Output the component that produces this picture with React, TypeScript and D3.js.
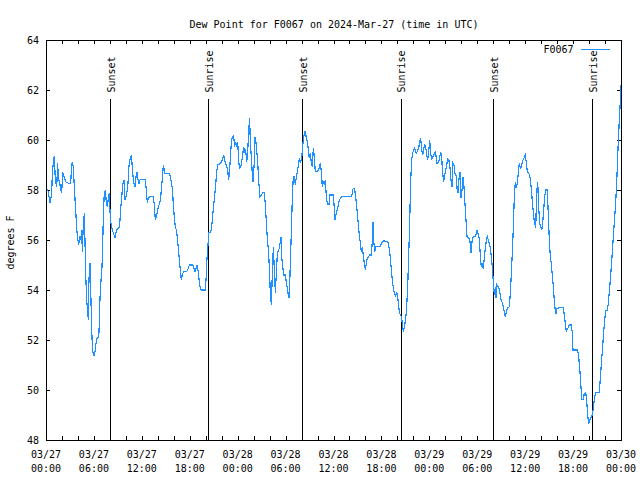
import React from 'react';
import * as d3 from 'd3';

const titleText = 'Dew Point for F0067 on 2024-Mar-27 (time in UTC)';
const seriesName = 'F0067';
const yLabel = 'degrees F';
const yTicks = [48, 50, 52, 54, 56, 58, 60, 62, 64];
const eventHours = [8.05, 20.32, 32.09, 44.4, 56.0, 68.4];
const eventLabels = ['Sunset', 'Sunrise', 'Sunset', 'Sunrise', 'Sunset', 'Sunrise'];

const hoursUTC = [
  0.08, 0.29, 0.5, 0.71, 0.79, 0.92, 1.04, 1.17, 1.34, 1.46, 1.54, 1.67, 1.84, 1.96, 2.09, 2.25, 2.46, 2.8, 3.09, 3.21,
  3.3, 3.42, 3.55, 3.72, 3.84, 3.97, 4.09, 4.22, 4.34, 4.47, 4.55, 4.67, 4.8, 4.88, 4.97, 5.09, 5.22, 5.3, 5.38, 5.51,
  5.59, 5.72, 5.84, 6.01, 6.14, 6.26, 6.43, 6.6, 6.68, 6.76, 6.89, 7.01, 7.1, 7.18, 7.3, 7.43, 7.55, 7.68, 7.81, 7.93,
  8.01, 8.1, 8.22, 8.43, 8.64, 8.85, 9.18, 9.27, 9.39, 9.52, 9.64, 9.77, 9.89, 10.02, 10.14, 10.27, 10.35, 10.44, 10.56, 10.68,
  10.77, 10.85, 11.02, 11.14, 11.27, 11.39, 11.52, 11.65, 11.77, 11.94, 12.44, 12.56, 12.69, 12.81, 12.94, 13.44, 13.56, 13.69, 13.82, 13.94,
  14.07, 14.19, 14.32, 14.44, 14.61, 14.69, 14.78, 14.9, 15.44, 15.61, 15.82, 15.94, 16.07, 16.19, 16.32, 16.44, 16.57, 16.7, 16.82, 16.95,
  17.07, 17.28, 17.61, 17.82, 17.95, 18.37, 18.53, 18.66, 18.78, 18.91, 19.03, 19.16, 19.28, 19.41, 19.91, 20.04, 20.16, 20.29, 20.37, 20.62,
  20.75, 20.87, 21.0, 21.12, 21.25, 21.37, 21.5, 21.87, 22.0, 22.12, 22.25, 22.37, 22.5, 22.62, 22.75, 22.87, 23.0, 23.12, 23.25, 23.37,
  23.5, 23.62, 23.75, 23.87, 24.0, 24.13, 24.25, 24.38, 24.5, 24.63, 24.75, 24.88, 25.0, 25.13, 25.25, 25.38, 25.5, 25.59, 25.71, 25.84,
  25.92, 26.05, 26.17, 26.3, 26.42, 26.55, 26.67, 26.8, 27.01, 27.13, 27.3, 27.42, 27.59, 27.71, 27.84, 27.97, 28.09, 28.22, 28.34, 28.47,
  28.59, 28.72, 28.84, 28.97, 29.22, 29.34, 29.43, 29.51, 29.64, 29.76, 29.97, 30.09, 30.22, 30.34, 30.47, 30.59, 30.72, 30.85, 30.97, 31.1,
  31.22, 31.35, 31.47, 31.6, 31.72, 31.89, 32.01, 32.1, 32.22, 32.35, 32.47, 32.6, 32.72, 32.85, 32.97, 33.1, 33.22, 33.35, 33.47, 33.6,
  33.72, 34.1, 34.23, 34.35, 34.48, 34.6, 34.73, 34.85, 34.98, 35.1, 35.23, 35.48, 35.56, 35.98, 36.1, 36.19, 36.31, 36.44, 36.56, 36.69,
  36.81, 36.98, 38.28, 38.4, 38.57, 38.69, 38.82, 38.99, 39.11, 39.24, 39.36, 39.49, 39.61, 39.74, 39.86, 39.99, 40.11, 40.24, 40.53, 40.7,
  40.82, 40.95, 41.03, 41.16, 41.28, 41.82, 42.03, 42.24, 42.78, 42.91, 43.03, 43.16, 43.28, 43.41, 43.53, 43.78, 43.91, 44.04, 44.16, 44.29,
  44.5, 44.66, 44.74, 44.87, 45.04, 45.16, 45.29, 45.41, 45.54, 45.66, 45.79, 45.91, 46.04, 46.16, 46.29, 46.41, 46.54, 46.66, 46.79, 46.92,
  47.04, 47.17, 47.29, 47.42, 47.54, 47.67, 47.79, 47.92, 48.04, 48.17, 48.29, 48.42, 48.67, 48.79, 48.92, 49.17, 49.3, 49.42, 49.55, 49.67,
  49.8, 49.92, 50.05, 50.17, 50.3, 50.46, 50.59, 50.71, 50.84, 50.96, 51.09, 51.21, 51.34, 51.47, 51.59, 51.72, 51.84, 51.97, 52.09, 52.22,
  52.34, 52.47, 52.59, 52.72, 52.93, 53.09, 53.22, 53.34, 53.47, 53.72, 53.84, 53.97, 54.09, 54.26, 54.39, 54.51, 54.64, 54.76, 54.89, 55.01,
  55.14, 55.26, 55.39, 55.51, 55.64, 55.76, 55.89, 55.97, 56.06, 56.14, 56.27, 56.35, 56.47, 56.73, 56.85, 56.98, 57.14, 57.27, 57.39, 57.52,
  57.64, 57.77, 58.02, 58.14, 58.27, 58.39, 58.52, 58.64, 58.77, 58.89, 59.02, 59.15, 59.27, 59.4, 59.52, 59.65, 59.77, 59.9, 60.02, 60.15,
  60.27, 60.56, 60.69, 60.81, 60.94, 61.07, 61.19, 61.32, 61.44, 61.57, 61.69, 61.82, 61.94, 62.07, 62.19, 62.32, 62.44, 62.57, 62.74, 62.86,
  62.99, 63.11, 63.24, 63.36, 63.49, 63.61, 63.74, 63.86, 63.99, 64.78, 64.91, 65.03, 65.16, 65.28, 65.41, 65.53, 65.78, 65.91, 65.99, 66.57,
  66.7, 66.83, 66.95, 67.08, 67.28, 67.41, 67.58, 67.7, 67.83, 67.95, 68.08, 68.2, 68.33, 68.45, 68.58, 68.7, 68.83, 69.25, 69.37, 69.5,
  69.62, 69.75, 69.87, 70.0, 70.12, 70.29, 70.41, 70.54, 70.66, 70.79, 70.92, 71.04, 71.17, 71.29, 71.42, 71.54, 71.67, 71.79, 71.92, 72.0,
];

const dewPointF = [
  58.07, 57.93, 57.47, 57.87, 58.6, 59.13, 59.36, 58.4, 58.13, 59.07, 58.53, 58.33, 58.07, 57.87, 58.73, 58.53, 58.33, 58.27, 58.27, 58.93,
  59.13, 58.93, 58.07, 57.2, 56.47, 56.07, 55.8, 56.16, 56.0, 56.4, 55.53, 56.6, 57.07, 56.0, 54.67, 53.6, 53.13, 52.8, 54.4, 55.07,
  54.13, 52.4, 51.53, 51.36, 51.53, 51.87, 52.1, 52.1, 52.67, 53.67, 54.4, 54.93, 55.8, 57.0, 57.87, 58.0, 57.53, 57.33, 57.67, 57.87,
  57.2, 56.73, 56.53, 56.27, 56.1, 56.4, 56.5, 56.83, 57.4, 57.87, 58.27, 58.4, 57.6, 57.73, 57.93, 58.27, 58.8, 59.13, 59.27, 59.4,
  59.07, 58.67, 58.27, 58.13, 58.53, 58.73, 58.4, 58.27, 58.4, 58.43, 58.43, 58.0, 57.47, 57.67, 57.73, 57.73, 57.4, 56.8, 56.93, 57.13,
  57.33, 57.44, 57.57, 58.0, 58.6, 59.0, 58.87, 58.67, 58.67, 58.47, 58.07, 57.47, 56.87, 56.53, 56.4, 56.13, 55.67, 55.2, 54.8, 54.4,
  54.64, 54.73, 54.73, 54.87, 55.0, 55.0, 54.87, 54.73, 54.87, 55.0, 54.8, 54.43, 54.13, 54.0, 54.0, 54.43, 55.27, 55.8, 56.29, 56.29,
  56.53, 57.0, 57.4, 57.8, 58.2, 58.73, 59.0, 59.07, 59.13, 59.27, 59.4, 59.2, 59.07, 58.93, 58.8, 58.4, 58.8, 59.53, 60.0, 60.13,
  60.16, 59.73, 59.93, 59.73, 59.93, 59.13, 58.87, 58.93, 59.13, 59.4, 59.73, 59.53, 59.6, 59.13, 59.47, 60.4, 60.87, 59.87, 59.33, 58.6,
  58.33, 58.93, 60.13, 59.87, 59.47, 58.87, 58.2, 57.73, 57.8, 57.91, 57.91, 57.6, 56.73, 56.07, 55.6, 54.93, 53.87, 53.4, 54.67, 55.73,
  54.8, 53.89, 54.67, 55.47, 55.67, 55.93, 56.13, 55.33, 54.93, 54.6, 54.6, 54.33, 54.07, 53.8, 53.67, 55.07, 56.27, 57.8, 58.53, 58.53,
  58.2, 58.53, 58.73, 59.0, 59.23, 59.13, 59.2, 59.6, 60.0, 60.27, 60.37, 60.07, 59.93, 59.6, 59.27, 59.47, 59.07, 58.93, 59.67, 59.33,
  58.73, 58.77, 58.93, 59.07, 58.73, 58.13, 58.33, 58.27, 58.4, 57.73, 57.44, 57.44, 57.8, 57.8, 57.27, 56.8, 57.0, 57.2, 57.33, 57.53,
  57.63, 57.73, 57.73, 58.03, 58.07, 57.93, 57.6, 57.07, 56.6, 56.2, 55.87, 55.53, 55.73, 55.33, 55.07, 54.8, 55.07, 55.27, 55.4, 55.4,
  55.73, 56.73, 56.0, 55.53, 55.73, 55.73, 55.87, 55.97, 55.93, 55.8, 55.53, 55.13, 54.67, 54.27, 54.0, 53.73, 53.93, 53.73, 53.33, 53.07,
  52.93, 52.6, 52.33, 52.53, 52.83, 53.33, 54.13, 55.33, 56.67, 58.33, 59.2, 59.47, 59.6, 59.67, 59.53, 59.47, 59.6, 59.67, 59.93, 60.07,
  59.6, 59.4, 59.67, 59.8, 59.73, 59.4, 59.2, 59.53, 60.0, 59.47, 59.2, 59.33, 59.47, 59.53, 59.07, 59.09, 59.33, 59.53, 59.27, 58.67,
  58.33, 58.6, 58.8, 59.0, 59.23, 59.17, 58.87, 58.4, 58.13, 59.07, 59.0, 58.67, 58.6, 58.07, 57.87, 58.47, 58.73, 57.67, 58.0, 58.53,
  58.13, 57.4, 56.8, 56.13, 56.11, 55.93, 55.47, 55.93, 56.11, 56.13, 56.2, 56.37, 56.27, 56.07, 55.33, 54.93, 55.07, 54.83, 55.33, 55.67,
  56.0, 56.13, 56.0, 55.87, 55.67, 55.33, 54.93, 54.53, 54.13, 53.8, 54.13, 53.67, 54.2, 54.07, 53.87, 53.6, 53.49, 53.33, 53.13, 52.93,
  53.13, 53.27, 53.33, 53.87, 54.67, 55.47, 56.53, 57.73, 58.33, 58.07, 58.27, 58.73, 59.07, 58.87, 58.93, 59.13, 59.23, 59.31, 59.4, 59.07,
  58.73, 58.6, 58.33, 57.87, 57.4, 56.93, 56.67, 56.47, 57.87, 58.33, 57.33, 56.67, 56.53, 56.4, 56.67, 57.2, 57.73, 58.0, 58.0, 57.33,
  56.27, 55.53, 55.13, 54.73, 54.27, 53.73, 53.27, 53.04, 53.27, 53.31, 52.93, 52.67, 52.33, 52.43, 52.51, 52.6, 52.6, 52.27, 51.6, 51.6,
  51.33, 50.87, 50.33, 49.63, 49.63, 49.87, 49.89, 49.6, 49.0, 48.64, 48.8, 48.87, 48.93, 49.07, 49.4, 49.73, 49.89, 49.89, 50.27, 50.87,
  51.4, 51.93, 52.47, 52.93, 53.17, 53.17, 53.47, 53.93, 54.4, 54.93, 55.53, 56.13, 56.73, 57.27, 58.0, 58.93, 60.0, 60.8, 61.6, 62.2,
];

const FONT = "'DejaVu Sans Mono', 'Liberation Mono', monospace";
const T0 = Date.UTC(2024, 2, 27);
const HOUR = 3600 * 1000;

export default function App() {
  const left = 46, right = 621, top = 40, bottom = 440;
  const x = d3.scaleUtc().domain([new Date(T0), new Date(T0 + 72 * HOUR)]).range([left, right]);
  const y = d3.scaleLinear().domain([48, 64]).range([bottom, top]);
  const data = hoursUTC.map((h, i) => ({ t: new Date(T0 + h * HOUR), v: dewPointF[i] }));
  const line = d3.line<{ t: Date; v: number }>().x((d) => x(d.t)).y((d) => y(d.v));
  const minorTicks = x.ticks(d3.utcHour.every(2)!);
  const majorTicks = x.ticks(d3.utcHour.every(6)!);
  const fmtDate = d3.utcFormat('%m/%d');
  const fmtTime = d3.utcFormat('%H:%M');
  const px = (v: number) => Math.round(v) + 0.5;
  const tl = 4;

  return (
    <svg width={640} height={480} style={{ position: 'absolute', left: 0, top: 0, background: '#fff' }} fontFamily={FONT} fontSize={10}>
      <rect x={0} y={0} width={640} height={480} fill="#fff" />
      <text x={334} y={27.5} textAnchor="middle" fill="#000">{titleText}</text>

      <g stroke="#000" strokeWidth={1} shapeRendering="crispEdges">
        {minorTicks.map((d, i) => (
          <g key={'xt' + i}>
            <line x1={px(x(d))} x2={px(x(d))} y1={bottom} y2={bottom - tl} />
            <line x1={px(x(d))} x2={px(x(d))} y1={top} y2={top + tl} />
          </g>
        ))}
        {yTicks.map((v, i) => (
          <g key={'yt' + i}>
            <line x1={left} x2={left + tl} y1={px(y(v))} y2={px(y(v))} />
            <line x1={right} x2={right - tl} y1={px(y(v))} y2={px(y(v))} />
          </g>
        ))}
      </g>

      <g shapeRendering="crispEdges">
        {eventHours.map((h, i) => {
          const ex = x(new Date(T0 + h * HOUR));
          return <line key={'ev' + i} x1={px(ex)} x2={px(ex)} y1={99} y2={bottom} stroke="#000" strokeWidth={1} />;
        })}
      </g>

      <path d={line(data) || ''} fill="none" stroke="#1E90FF" strokeWidth={1.2} shapeRendering="crispEdges" />

      <rect x={left + 0.5} y={top + 0.5} width={right - left} height={bottom - top} fill="none" stroke="#000" strokeWidth={1} shapeRendering="crispEdges" />

      {eventHours.map((h, i) => {
        const ex = x(new Date(T0 + h * HOUR));
        return (
          <text key={'evl' + i} transform={`translate(${ex + 4.5},92.5) rotate(-90)`} textAnchor="start" fill="#000">
            {eventLabels[i]}
          </text>
        );
      })}

      {yTicks.map((v, i) => (
        <text key={'yl' + i} x={39} y={y(v) + 3.5} textAnchor="end" fill="#000">{v}</text>
      ))}

      {majorTicks.map((d, i) => (
        <g key={'xl' + i}>
          <text x={x(d)} y={457.5} textAnchor="middle" fill="#000">{fmtDate(d)}</text>
          <text x={x(d)} y={471.5} textAnchor="middle" fill="#000">{fmtTime(d)}</text>
        </g>
      ))}

      <text transform={`translate(14,242.5) rotate(-90)`} textAnchor="middle" fill="#000">{yLabel}</text>

      <text x={573.5} y={52.5} textAnchor="end" fill="#000">{seriesName}</text>
      <line x1={581} x2={610} y1={49.5} y2={49.5} stroke="#1E90FF" strokeWidth={1} shapeRendering="crispEdges" />
    </svg>
  );
}
